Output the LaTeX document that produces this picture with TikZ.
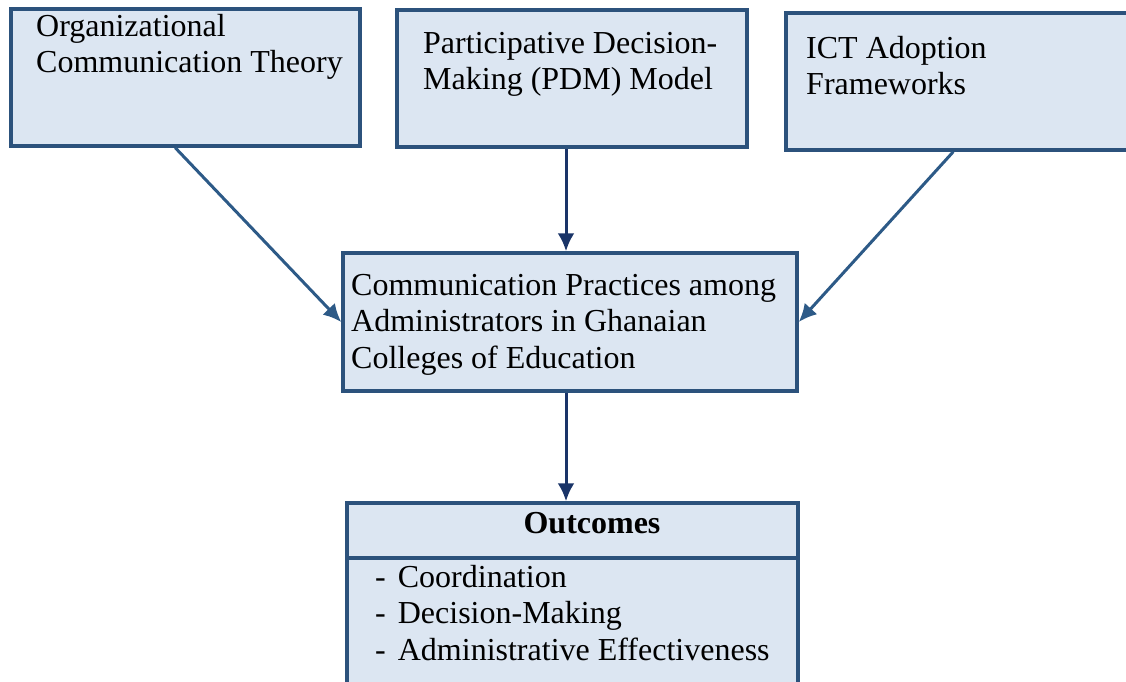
\documentclass[tikz,border=0pt]{standalone}
\usepackage{fontspec}
\setmainfont{Liberation Serif}
\usetikzlibrary{arrows.meta}
\definecolor{boxline}{RGB}{44,82,124}
\definecolor{boxfill}{RGB}{220,230,242}
\definecolor{navy}{RGB}{26,52,104}
\definecolor{steel}{RGB}{45,90,135}
\begin{document}
\begin{tikzpicture}[x=1pt,y=-1pt,
  box/.style={draw=boxline, fill=boxfill, line width=3.5pt, rectangle, inner sep=0pt},
  txt/.style={anchor=base west, inner sep=0pt, font=\fontsize{32}{36.5}\selectfont, align=left},
  arr/.style={line width=3pt, -{Latex[length=18pt,width=17pt]}}]
\useasboundingbox (0,0) rectangle (1126,682);
% boxes
\node[box, minimum width=349pt, minimum height=137pt] (b1) at (185.5,77.5) {};
\node[box, minimum width=350pt, minimum height=137pt] (b2) at (572,78.5) {};
\node[box, minimum width=354pt, minimum height=137pt] (b3) at (963,81.5) {};
\node[box, minimum width=454pt, minimum height=138pt] (c) at (570,322) {};
\node[box, minimum width=451pt, minimum height=200pt] (o) at (572.5,603) {};
\draw[draw=boxline, line width=3.5pt] (o.west |- 0,558) coordinate (dl) -- (o.east |- 0,558) coordinate (dr);
% texts (anchor = baseline of last line)
\node[txt] (t1) at (36,73) {Organizational\\Communication Theory};
\node[txt] (t2) at (423,90) {Participative Decision-\\Making (PDM) Model};
\node[txt] (t3) at (806,95) {ICT Adoption\\Frameworks};
\node[txt] (tc) at (351,368) {Communication Practices among\\Administrators in Ghanaian\\Colleges of Education};
\node[anchor=base, inner sep=0pt, font=\fontsize{32}{36}\selectfont\bfseries] (to) at (592,533) {Outcomes};
\node[txt] (l1) at (375,587) {-\hspace{12pt}Coordination};
\node[txt] (l2) at (375,623) {-\hspace{12pt}Decision-Making};
\node[txt] (l3) at (375,660) {-\hspace{12pt}Administrative Effectiveness};
% arrows
\draw[arr, steel] ([xshift=166pt]b1.south west) -- (c.west);
\draw[arr, navy] ([xshift=-6pt]b2.south) -- ([xshift=-4pt]c.north);
\draw[arr, steel] ([xshift=169pt]b3.south west) -- (c.east);
\draw[arr, navy] ([xshift=-4pt]c.south) -- ([xshift=-6.5pt]o.north);
\end{tikzpicture}
\end{document}
